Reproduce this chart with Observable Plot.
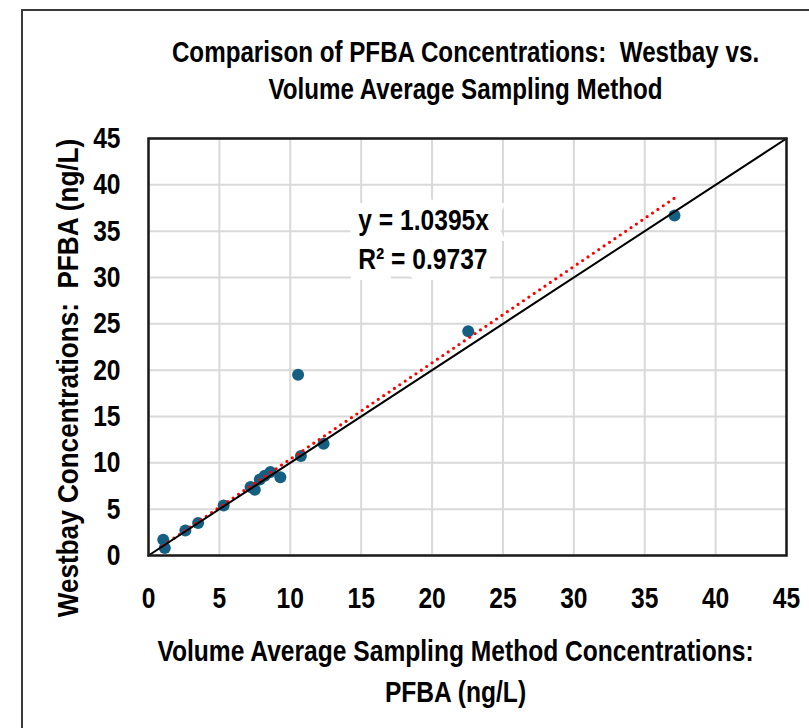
<!DOCTYPE html>
<html>
<head>
<meta charset="utf-8">
<script src="https://cdn.jsdelivr.net/npm/d3@7"></script>
<script src="https://cdn.jsdelivr.net/npm/@observablehq/plot@0.6"></script>
<style>
  html, body { margin: 0; padding: 0; background: #fff; }
  #wrap { position: relative; width: 809px; height: 728px; overflow: hidden; background: #fff; }
  #border { position: absolute; left: 21px; top: 9px; width: 900px; height: 900px;
            border-top: 2px solid #3a3a3a; border-left: 2px solid #3a3a3a; pointer-events: none; }
  #wrap svg { position: absolute; left: 0; top: 0; background: transparent; }
</style>
</head>
<body>
<div id="wrap"><div id="border"></div></div>
<script>
// ---- data ----
const volumeAvg = [1.04, 1.15, 2.6, 3.5, 5.3, 7.2, 7.5, 7.85, 8.2, 8.6, 9.3, 10.55, 10.75, 12.35, 22.55, 37.1];
const westbay   = [1.7, 0.8, 2.7, 3.5, 5.4, 7.4, 7.1, 8.2, 8.6, 9.0, 8.45, 19.5, 10.75, 12.05, 24.2, 36.7];
const trendSlope = 1.0395;
const rSquared = 0.9737;
const xTicks = [0, 5, 10, 15, 20, 25, 30, 35, 40, 45];
const yTicks = [0, 5, 10, 15, 20, 25, 30, 35, 40, 45];
const oneToOne = [0, 45];
const eqLabels = [
  {x: 14.8, y: 36.2, text: `y = ${trendSlope}x`},
  {x: 14.8, y: 32.0, text: `R² = ${rSquared}`}
];
const titleText = "Comparison of PFBA Concentrations:  Westbay vs.\nVolume Average Sampling Method";
const xLabel = "Volume Average Sampling Method Concentrations:\nPFBA (ng/L)";
const yLabel = "Westbay Concentrations:  PFBA (ng/L)";

const points = volumeAvg.map((x, i) => ({x, y: westbay[i]}));
const [xmin, xmax] = d3.extent(volumeAvg);
const trend = [xmin, xmax].map(x => ({x, y: trendSlope * x}));
const diag = oneToOne.map(v => ({x: v, y: v}));

const FONT = '"Liberation Sans Narrow", "Arial Narrow", "Liberation Sans", Arial, sans-serif';
const BLUE = "#156082";

const chart = Plot.plot({
  width: 809,
  height: 728,
  marginLeft: 148,
  marginRight: 23,
  marginTop: 138,
  marginBottom: 173,
  style: {background: "transparent", fontFamily: FONT, fontWeight: "bold", fontSize: "30px", color: "#000"},
  x: {domain: [0, 45], label: null},
  y: {domain: [0, 45], label: null},
  marks: [
    Plot.gridX(xTicks, {stroke: "#d9d9d9", strokeOpacity: 1, strokeWidth: 2}),
    Plot.gridY(yTicks, {stroke: "#d9d9d9", strokeOpacity: 1, strokeWidth: 2}),
    Plot.axisX(xTicks, {tickSize: 0, tickPadding: 31, fontSize: 30, fontWeight: "bold", fontFamily: FONT, fill: "#000", label: null}),
    Plot.axisY(yTicks, {tickSize: 0, tickPadding: 28, fontSize: 30, fontWeight: "bold", fontFamily: FONT, fill: "#000", label: null}),
    Plot.text(eqLabels, {x: "x", y: "y", text: "text", textAnchor: "start", fontSize: 30, fontWeight: "bold",
      fontFamily: FONT, fill: "#000", stroke: "white", strokeWidth: 22, strokeLinejoin: "miter"}),
    Plot.dot(points, {x: "x", y: "y", r: 6, fill: BLUE, stroke: "none"}),
    Plot.line(trend, {x: "x", y: "y", stroke: "#ff0000", strokeWidth: 3.2, strokeDasharray: "0,6.5", strokeLinecap: "round"}),
    Plot.line(diag, {x: "x", y: "y", stroke: "#000", strokeWidth: 2}),
    Plot.frame({stroke: "#1a1a1a", strokeWidth: 2.5}),
    Plot.text([titleText], {frameAnchor: "top", dx: -2, dy: -70, lineAnchor: "middle", lineHeight: 1.26,
      fontSize: 29.5, fontWeight: "bold", fontFamily: FONT, fill: "#000"}),
    Plot.text([xLabel], {frameAnchor: "bottom", dx: -12, dy: 112.5, lineAnchor: "middle", lineHeight: 1.37,
      fontSize: 30, fontWeight: "bold", fontFamily: FONT, fill: "#000"}),
    Plot.text([yLabel], {frameAnchor: "left", dx: -80, dy: 31, rotate: -90, textAnchor: "middle", lineAnchor: "middle",
      fontSize: 30, fontWeight: "bold", fontFamily: FONT, fill: "#000"})
  ]
});
document.getElementById("wrap").insertBefore(chart, document.getElementById("border"));

// Narrow fonts are not installed: condense the bold sans glyphs horizontally
// (scaling about each text's own anchor point).
const SQUEEZE = 0.82, SQUEEZE_ROTATED = 0.87;
chart.querySelectorAll("text").forEach(t => {
  const tr = t.getAttribute("transform");
  if (tr) {
    const s = tr.includes("rotate") ? SQUEEZE_ROTATED : SQUEEZE;
    t.setAttribute("transform", tr + ` scale(${s},1)`);
  } else {
    const spans = t.querySelectorAll("tspan");
    (spans.length ? Array.from(spans) : [t]).forEach(el => {
      const len = el.getComputedTextLength();
      if (len > 0) {
        el.setAttribute("textLength", (len * SQUEEZE).toFixed(2));
        el.setAttribute("lengthAdjust", "spacingAndGlyphs");
      }
    });
  }
});
</script>
</body>
</html>
